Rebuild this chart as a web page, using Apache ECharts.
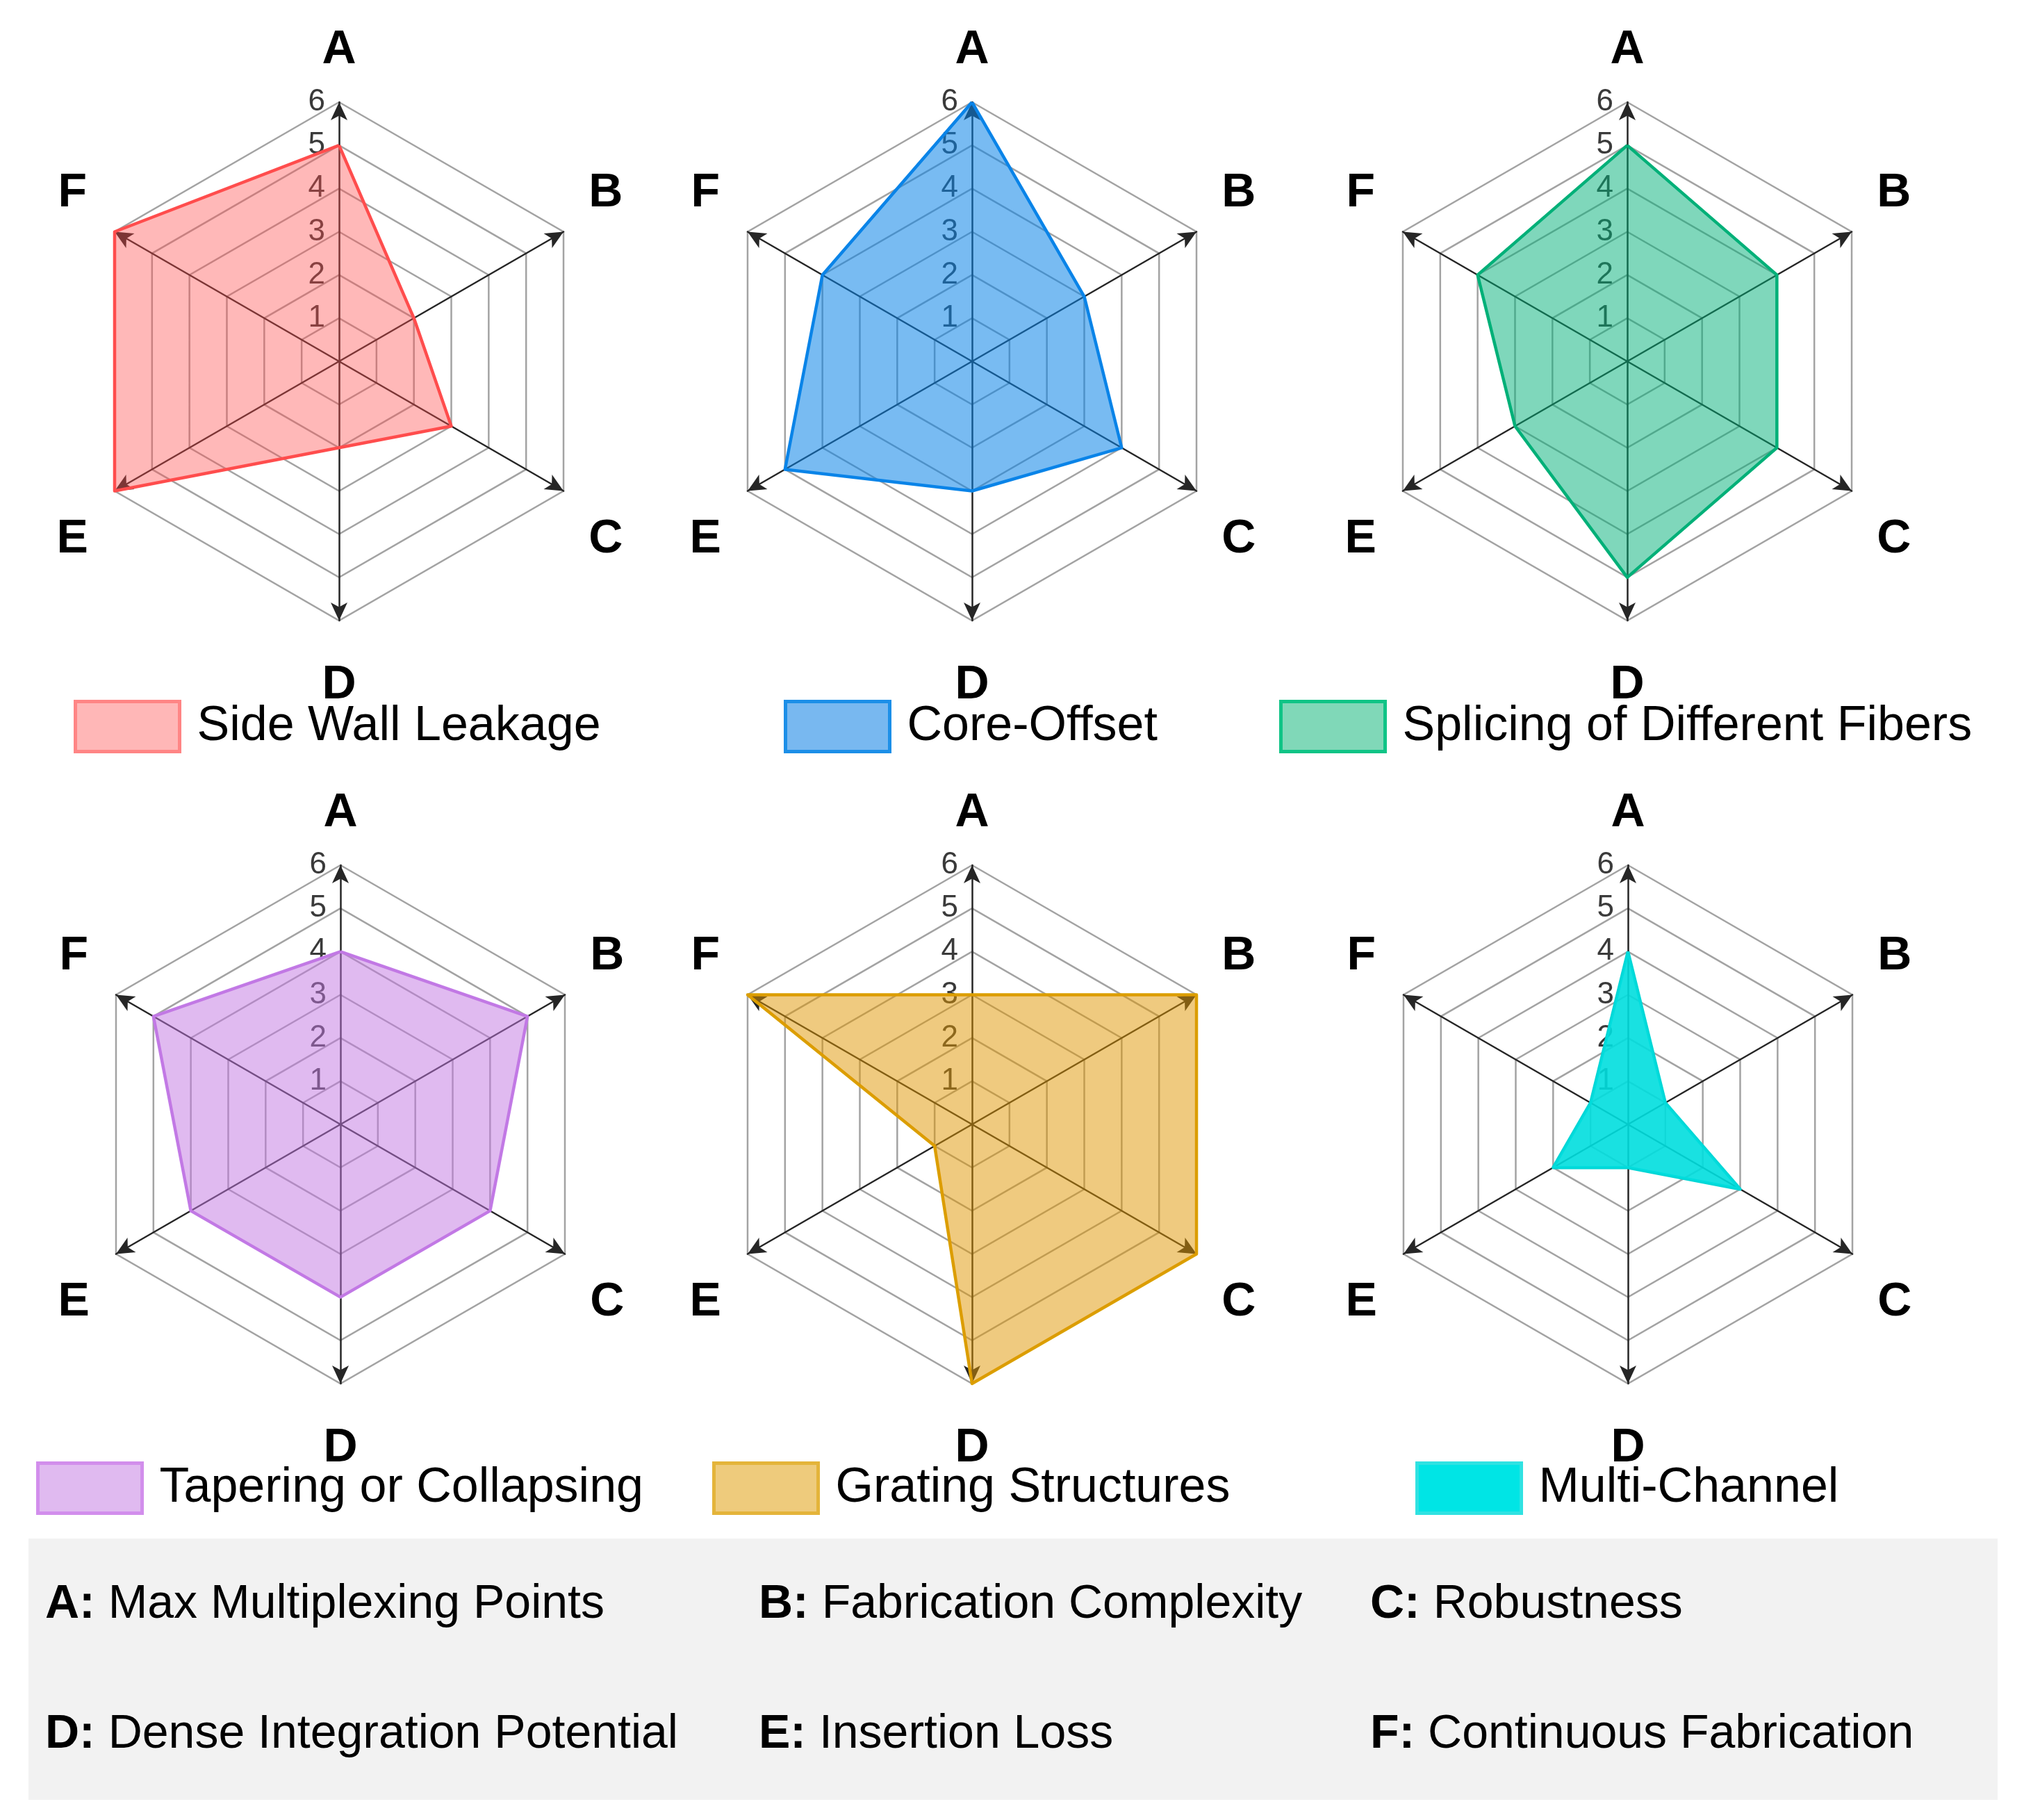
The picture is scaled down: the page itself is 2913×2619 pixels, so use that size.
<!DOCTYPE html>
<html>
<head>
<meta charset="utf-8">
<script src="https://cdn.jsdelivr.net/npm/echarts@6/dist/echarts.min.js"></script>
<style>
html,body{margin:0;padding:0;background:#fff;}
#chart{width:2913px;height:2619px;}
</style>
</head>
<body>
<div id="chart"></div>
<script>
const categories = ['A', 'B', 'C', 'D', 'E', 'F'];
const axisDescriptions = ['Max Multiplexing Points', 'Fabrication Complexity', 'Robustness', 'Dense Integration Potential', 'Insertion Loss', 'Continuous Fabrication'];
const tickLabels = ['', '1', '2', '3', '4', '5', '6'];
const axisMax = 6;

const seriesNames = ['Side Wall Leakage', 'Core-Offset', 'Splicing of Different Fibers', 'Tapering or Collapsing', 'Grating Structures', 'Multi-Channel'];
const sideWallLeakage = [5, 2, 3, 2, 6, 6];
const coreOffset = [6, 3, 4, 3, 5, 4];
const splicingDifferentFibers = [5, 4, 4, 5, 3, 4];
const taperingCollapsing = [4, 5, 4, 4, 4, 5];
const gratingStructures = [3, 6, 6, 6, 1, 6];
const multiChannel = [4, 1, 3, 1, 2, 1];
const seriesValues = [sideWallLeakage, coreOffset, splicingDifferentFibers, taperingCollapsing, gratingStructures, multiChannel];

// ECharts places radar indicators counter-clockwise; this order puts B at upper right (clockwise A..F)
const displayOrder = [0, 5, 4, 3, 2, 1];

// styling (not data)
const lineColors = ['#FF4D4D', '#0A84E8', '#00B078', '#C27AE6', '#DBA000', '#00D6D6'];
const areaColors = ['rgba(255,77,77,0.40)', 'rgba(10,132,232,0.55)', 'rgba(0,176,120,0.50)', 'rgba(193,117,225,0.50)', 'rgba(223,150,0,0.50)', 'rgba(0,222,222,0.90)'];
const legendFill = ['#FFB7B7', '#78B8F0', '#80D8B8', '#E0BAF0', '#EECB7C', '#00E5E5'];
const legendBorder = ['#FF8585', '#1C8FE8', '#10C486', '#D28EEC', '#E4B43A', '#30E2E2'];
const centers = [[488, 520], [1399, 520], [2342, 520], [490, 1618], [1399, 1618], [2343, 1618]];
const legendPos = [[106, 1007], [1128, 1007], [1841, 1007], [52, 2103], [1025, 2103], [2037, 2103]];
const namePadding = { A: [18, 0, 0, 0], B: [0, 24, 26, 0], C: [56, 24, 0, 0], D: [18, 0, 0, 0], E: [56, 0, 0, 24], F: [0, 0, 26, 24] };
const R = 373;
const FONT = '"Liberation Sans", Arial, sans-serif';

const nameRich = {};
categories.forEach(function (c) {
  nameRich[c] = { padding: namePadding[c], fontSize: 68, fontWeight: 'bold', fontFamily: FONT, color: '#000' };
});

const radars = centers.map(function (c) {
  return {
    center: c,
    radius: R,
    startAngle: 90,
    splitNumber: 6,
    shape: 'polygon',
    nameGap: 84,
    indicator: displayOrder.map(function (k) {
      const n = categories[k];
      const ind = { name: n, min: 0, max: axisMax };
      if (k === 0) ind.axisLabel = { show: true };
      return ind;
    }),
    axisName: {
      color: '#000', fontSize: 68, fontWeight: 'bold', fontFamily: FONT,
      align: 'center', verticalAlign: 'middle',
      formatter: function (name) { return '{' + name + '|' + name + '}'; },
      rich: nameRich
    },
    splitLine: { lineStyle: { color: '#a3a3a3', width: 2.5 } },
    splitArea: { show: false },
    axisLine: {
      symbol: ['none', 'arrow'], symbolSize: [18, 26],
      lineStyle: { color: '#262626', width: 2.5 }
    },
    axisTick: { show: false },
    axisLabel: {
      show: false, color: '#3a3a3a', fontSize: 44, fontFamily: FONT, margin: 20,
      formatter: function (v) { return tickLabels[Math.round(v)] || ''; }
    }
  };
});

const series = seriesValues.map(function (vals, i) {
  return {
    type: 'radar',
    radarIndex: i,
    name: seriesNames[i],
    symbol: 'none',
    silent: true,
    lineStyle: { color: lineColors[i], width: 4.5 },
    itemStyle: { color: lineColors[i] },
    areaStyle: { color: areaColors[i], opacity: 1 },
    data: [{ value: displayOrder.map(function (k) { return vals[k]; }), name: seriesNames[i] }]
  };
});

const legends = seriesNames.map(function (n, i) {
  return {
    left: legendPos[i][0], top: legendPos[i][1],
    orient: 'horizontal', padding: 0,
    itemWidth: 150, itemHeight: 72,
    selectedMode: false,
    textStyle: { fontSize: 70, color: '#000', fontFamily: FONT, padding: [0, 0, 0, 20] },
    data: [{ name: n, icon: 'rect', itemStyle: { color: legendFill[i], borderColor: legendBorder[i], borderWidth: 5 } }]
  };
});

const descPos = [[65, 2309], [1092, 2309], [1972, 2309], [65, 2496], [1092, 2496], [1972, 2496]];
const graphics = [{
  type: 'rect', shape: { x: 41, y: 2214, width: 2834, height: 376 },
  style: { fill: '#F2F2F2' }, z: 0
}].concat(categories.map(function (c, i) {
  return {
    type: 'text', x: descPos[i][0], y: descPos[i][1], z: 1,
    style: {
      text: '{b|' + c + ':} ' + axisDescriptions[i],
      fontSize: 68, fontFamily: FONT, fill: '#000',
      align: 'left', verticalAlign: 'middle',
      rich: { b: { fontWeight: 'bold', fontSize: 68, fontFamily: FONT, fill: '#000' } }
    }
  };
}));

const chart = echarts.init(document.getElementById('chart'), null, { renderer: 'canvas' });
chart.setOption({
  backgroundColor: '#fff',
  animation: false,
  radar: radars,
  legend: legends,
  series: series,
  graphic: graphics
});
</script>
</body>
</html>
